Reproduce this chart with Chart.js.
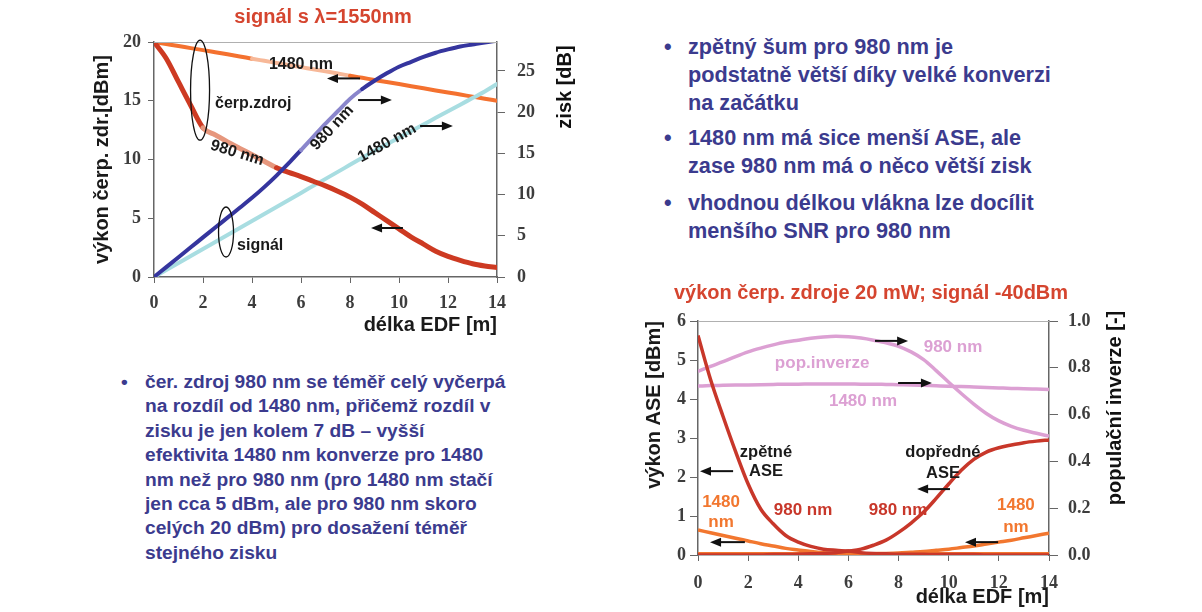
<!DOCTYPE html>
<html lang="cs">
<head>
<meta charset="utf-8">
<title>EDFA – čerpání 980 nm a 1480 nm</title>
<script src="https://cdn.jsdelivr.net/npm/chart.js@4.4.1/dist/chart.umd.min.js"></script>
<style>
  html, body { margin: 0; padding: 0; background: #fff; }
  body { width: 1202px; height: 612px; position: relative; overflow: hidden; font-family: "Liberation Sans", Arial, sans-serif; }
  canvas { position: absolute; }
  #pumpChart { left: 63px; top: 0; }
  #aseChart { left: 611px; top: 272px; }
  .note { position: absolute; color: #3b3b8e; font-weight: bold; white-space: nowrap; }
  .note .dot { position: absolute; left: -24px; top: 0; }
  .big { font-size: 21.7px; line-height: 28px; left: 688px; }
  .small { font-size: 19.2px; line-height: 24.4px; left: 145px; }
</style>
</head>
<body>

<canvas id="pumpChart" width="520" height="345"></canvas>
<canvas id="aseChart" width="520" height="340"></canvas>

<div class="note big" style="top:33px"><span class="dot">•</span>zpětný šum pro 980 nm je<br>podstatně větší díky velké konverzi<br>na začátku</div>
<div class="note big" style="top:124px"><span class="dot">•</span>1480 nm má sice menší ASE, ale<br>zase 980 nm má o něco větší zisk</div>
<div class="note big" style="top:189px"><span class="dot">•</span>vhodnou délkou vlákna lze docílit<br>menšího SNR pro 980 nm</div>

<div class="note small" style="top:370px"><span class="dot">•</span>čer. zdroj 980 nm se téměř celý vyčerpá<br>na rozdíl od 1480 nm, přičemž rozdíl v<br>zisku je jen kolem 7 dB – vyšší<br>efektivita 1480 nm konverze pro 1480<br>nm než pro 980 nm (pro 1480 nm stačí<br>jen cca 5 dBm, ale pro 980 nm skoro<br>celých 20 dBm) pro dosažení téměř<br>stejného zisku</div>

<script>
// délka vlákna EDF [m] - společná pro všechny křivky
const lengthM = [0, 0.5, 1, 1.5, 2, 2.5, 3, 3.5, 4, 4.5, 5, 5.5, 6, 6.5, 7, 7.5, 8, 8.5, 9, 9.5, 10, 10.5, 11, 11.5, 12, 12.5, 13, 13.5, 14];

// horní graf: výkon čerpání [dBm] a zisk signálu [dB]
const pump1480 = [20, 19.83, 19.66, 19.48, 19.31, 19.13, 18.95, 18.77, 18.58, 18.4, 18.22, 18.04, 17.86, 17.68, 17.5, 17.32, 17.13, 16.95, 16.77, 16.59, 16.42, 16.24, 16.06, 15.88, 15.71, 15.53, 15.35, 15.17, 15.0];
const pump980 = [20, 18.6, 16.6, 14.6, 12.7, 12.1, 11.5, 10.95, 10.4, 9.85, 9.3, 8.9, 8.55, 8.15, 7.75, 7.3, 6.8, 6.2, 5.5, 4.8, 4.1, 3.4, 2.8, 2.2, 1.76, 1.42, 1.13, 0.94, 0.8];
const gain980 = [0, 1.2, 2.4, 3.6, 4.8, 6.0, 7.2, 8.4, 9.6, 10.9, 12.3, 13.8, 15.4, 17.0, 18.6, 20.1, 21.6, 22.8, 23.8, 24.7, 25.5, 26.1, 26.7, 27.2, 27.6, 27.95, 28.2, 28.45, 28.65];
const gain1480 = [0, 0.85, 1.7, 2.55, 3.4, 4.25, 5.1, 5.95, 6.8, 7.65, 8.5, 9.35, 10.2, 11.05, 11.9, 12.75, 13.6, 14.45, 15.3, 16.1, 16.9, 17.7, 18.5, 19.3, 20.1, 20.9, 21.7, 22.5, 23.4];

// dolní graf: výkon ASE [dBm] a populační inverze [-]
const ase980Back = [5.63, 4.5, 3.55, 2.65, 1.82, 1.18, 0.8, 0.5, 0.33, 0.22, 0.15, 0.12, 0.1, 0.06, 0.04, 0.03, 0.02, 0.02, 0.02, 0.01, 0.01, 0.01, 0.01, 0, 0, 0, 0, 0, 0];
const ase980Fwd = [0, 0, 0, 0, 0, 0, 0.01, 0.01, 0.02, 0.03, 0.04, 0.06, 0.1, 0.15, 0.25, 0.38, 0.58, 0.82, 1.1, 1.45, 1.82, 2.17, 2.45, 2.64, 2.75, 2.82, 2.88, 2.92, 2.95];
const ase1480Back = [0.64, 0.57, 0.5, 0.43, 0.36, 0.29, 0.23, 0.17, 0.13, 0.09, 0.06, 0.045, 0.035, 0.03, 0.03, 0.03, 0.03, 0.03, 0.03, 0.03, 0.03, 0.03, 0.03, 0.03, 0.03, 0.03, 0.03, 0.03, 0.03];
const ase1480Fwd = [0.03, 0.03, 0.03, 0.03, 0.03, 0.03, 0.03, 0.03, 0.03, 0.03, 0.03, 0.03, 0.03, 0.03, 0.035, 0.04, 0.05, 0.07, 0.09, 0.12, 0.15, 0.19, 0.23, 0.28, 0.33, 0.38, 0.44, 0.5, 0.56];
const inv980 = [0.785, 0.806, 0.826, 0.848, 0.868, 0.884, 0.898, 0.91, 0.918, 0.926, 0.932, 0.935, 0.933, 0.927, 0.918, 0.907, 0.892, 0.868, 0.835, 0.788, 0.738, 0.69, 0.645, 0.605, 0.573, 0.55, 0.533, 0.52, 0.508];
const inv1480 = [0.722, 0.724, 0.725, 0.726, 0.727, 0.728, 0.729, 0.73, 0.73, 0.731, 0.731, 0.731, 0.731, 0.73, 0.73, 0.729, 0.728, 0.727, 0.725, 0.723, 0.721, 0.72, 0.718, 0.716, 0.714, 0.712, 0.711, 0.709, 0.707];

const ARIAL = '"Liberation Sans", Arial, sans-serif';
const SERIF = '"Liberation Serif", "Times New Roman", serif';
const tickFont = { family: SERIF, size: 18, weight: 'bold' };
const tickColour = "#3d3d3d";
const axisColour = "#666";

function pairs(ys) {
    return lengthM.map((x, i) => ({ x: x, y: ys[i] }));
}

// světlejší úsek čáry (jak je v předloze pod popisky)
function lightBetween(from, to, colour) {
    return ctx => (ctx.p0.parsed.x >= from && ctx.p1.parsed.x <= to) ? colour : undefined;
}

// popisky, šipky a elipsy v souřadnicích dat + pravý popis osy otočený o -90°
const notes = {
    id: 'notes',
    afterDatasetsDraw(chart, args, opts) {
        const { ctx, chartArea: area } = chart;
        const sx = chart.scales.x, sy = chart.scales.y;
        ctx.save();

        ctx.strokeStyle = "#b0b0b0";
        ctx.lineWidth = 1;
        ctx.beginPath();
        ctx.moveTo(area.left, area.top + 0.5);
        ctx.lineTo(area.right, area.top + 0.5);
        ctx.stroke();

        (opts.items || []).forEach(it => {
            const px = sx.getPixelForValue(it.x);
            const py = sy.getPixelForValue(it.y);
            if (it.type === 'text') {
                ctx.save();
                ctx.translate(px, py);
                ctx.rotate((it.angle || 0) * Math.PI / 180);
                ctx.font = 'bold ' + (it.size || 16) + 'px ' + ARIAL;
                ctx.fillStyle = it.color || "#1a1a1a";
                ctx.textAlign = it.align || 'center';
                ctx.textBaseline = 'middle';
                ctx.fillText(it.text, 0, 0);
                ctx.restore();
            } else if (it.type === 'arrow') {
                const px2 = sx.getPixelForValue(it.x2);
                const dir = Math.sign(px2 - px);
                ctx.strokeStyle = "#111";
                ctx.fillStyle = "#111";
                ctx.lineWidth = 2;
                ctx.beginPath();
                ctx.moveTo(px, py);
                ctx.lineTo(px2 - dir * 8, py);
                ctx.stroke();
                ctx.beginPath();
                ctx.moveTo(px2, py);
                ctx.lineTo(px2 - dir * 11, py - 4.5);
                ctx.lineTo(px2 - dir * 11, py + 4.5);
                ctx.closePath();
                ctx.fill();
            } else if (it.type === 'ellipse') {
                ctx.strokeStyle = "#111";
                ctx.lineWidth = 1.3;
                ctx.beginPath();
                ctx.ellipse(px, py, it.rx, it.ry, 0, 0, Math.PI * 2);
                ctx.stroke();
            }
        });

        if (opts.sideTitle) {
            const t = opts.sideTitle;
            ctx.translate(area.right + t.dx, area.top + t.dy);
            ctx.rotate(-Math.PI / 2);
            ctx.font = 'bold 20px ' + ARIAL;
            ctx.fillStyle = "#111";
            ctx.textAlign = 'center';
            ctx.textBaseline = 'middle';
            ctx.fillText(t.text, 0, 0);
        }
        ctx.restore();
    }
};

function axisX(height, titlePad, tickPad) {
    return {
        type: 'linear', min: 0, max: 14,
        ticks: { stepSize: 2, font: tickFont, color: tickColour, padding: tickPad },
        grid: { drawOnChartArea: false, drawTicks: true, tickLength: 6, color: axisColour },
        border: { display: true, color: axisColour, width: 1.5 },
        title: { display: true, text: 'délka EDF [m]', align: 'end', color: "#1a1a1a",
                 font: { family: ARIAL, size: 20, weight: 'bold' }, padding: { top: 0, bottom: titlePad } },
        afterFit: scale => { scale.height = height; }
    };
}

// ---------- horní graf ----------
new Chart(document.getElementById("pumpChart"), {
    type: 'line',
    data: {
        datasets: [
            { data: pairs(gain980), yAxisID: 'y1', borderColor: "#35359e", borderWidth: 4, order: 1,
              segment: { borderColor: lightBetween(6, 8.5, "#8a86cc") } },
            { data: pairs(pump980), yAxisID: 'y', borderColor: "#cd3a22", borderWidth: 5, order: 2,
              segment: { borderColor: lightBetween(2, 5, "#e6977d") } },
            { data: pairs(gain1480), yAxisID: 'y1', borderColor: "#a8dde1", borderWidth: 4, order: 3 },
            { data: pairs(pump1480), yAxisID: 'y', borderColor: "#f4712f", borderWidth: 4, order: 4,
              segment: { borderColor: lightBetween(4, 8, "#f7b898") } }
        ]
    },
    options: {
        responsive: false,
        animation: false,
        layout: { padding: 0 },
        elements: { point: { radius: 0 }, line: { cubicInterpolationMode: 'monotone', borderCapStyle: 'round' } },
        scales: {
            x: axisX(68, 8, 10),
            y: {
                position: 'left', min: 0, max: 20,
                ticks: { stepSize: 5, font: tickFont, color: tickColour, padding: 7 },
                grid: { drawOnChartArea: false, tickLength: 6, color: axisColour },
                border: { display: true, color: axisColour, width: 1.5 },
                title: { display: true, text: 'výkon čerp. zdr.[dBm]', color: "#1a1a1a",
                         font: { family: ARIAL, size: 20, weight: 'bold' }, padding: { top: 27, bottom: 0 } },
                afterFit: scale => { scale.width = 91; }
            },
            y1: {
                position: 'right', min: 0, max: 28.5,
                ticks: { stepSize: 5, font: tickFont, color: tickColour, padding: 12 },
                grid: { drawOnChartArea: false, tickLength: 8, color: axisColour },
                border: { display: true, color: axisColour, width: 1.5 },
                afterBuildTicks: scale => { scale.ticks = scale.ticks.filter(t => t.value % 5 === 0); },
                afterFit: scale => { scale.width = 86; }
            }
        },
        plugins: {
            legend: { display: false },
            tooltip: { enabled: false },
            title: { display: true, text: 'signál s λ=1550nm', color: "#d5452f",
                     font: { family: ARIAL, size: 20, weight: 'bold' }, padding: { top: 5, bottom: 13 } },
            notes: {
                sideTitle: { text: 'zisk [dB]', dx: 68, dy: 45 },
                items: [
                    { type: 'ellipse', x: 1.88, y: 15.9, rx: 9.5, ry: 50 },
                    { type: 'text', text: 'čerp.zdroj', x: 2.49, y: 14.8, align: 'left' },
                    { type: 'ellipse', x: 2.94, y: 3.83, rx: 7.5, ry: 25 },
                    { type: 'text', text: 'signál', x: 3.39, y: 2.64, align: 'left' },
                    { type: 'text', text: '1480 nm', x: 4.69, y: 18.1, align: 'left' },
                    { type: 'text', text: '980 nm', x: 7.27, y: 12.7, angle: -47 },
                    { type: 'text', text: '1480 nm', x: 9.51, y: 11.4, angle: -29 },
                    { type: 'text', text: '980 nm', x: 3.39, y: 10.55, angle: 17 },
                    { type: 'arrow', x: 8.41, x2: 7.06, y: 16.9 },
                    { type: 'arrow', x: 8.33, x2: 9.71, y: 15.06 },
                    { type: 'arrow', x: 10.86, x2: 12.2, y: 12.85 },
                    { type: 'arrow', x: 10.16, x2: 8.86, y: 4.17 }
                ]
            }
        }
    },
    plugins: [notes]
});

// ---------- dolní graf ----------
const pink = "#dca0d3", red = "#c8372a", orange = "#f2772f";

new Chart(document.getElementById("aseChart"), {
    type: 'line',
    data: {
        datasets: [
            { data: pairs(ase980Back), yAxisID: 'y', borderColor: red, borderWidth: 3.5, order: 1 },
            { data: pairs(ase980Fwd), yAxisID: 'y', borderColor: red, borderWidth: 3.5, order: 2 },
            { data: pairs(ase1480Back), yAxisID: 'y', borderColor: orange, borderWidth: 3.5, order: 3 },
            { data: pairs(ase1480Fwd), yAxisID: 'y', borderColor: orange, borderWidth: 3.5, order: 4 },
            { data: pairs(inv980), yAxisID: 'y1', borderColor: pink, borderWidth: 3.5, order: 5 },
            { data: pairs(inv1480), yAxisID: 'y1', borderColor: pink, borderWidth: 3.5, order: 6 }
        ]
    },
    options: {
        responsive: false,
        animation: false,
        layout: { padding: 0 },
        elements: { point: { radius: 0 }, line: { cubicInterpolationMode: 'monotone' } },
        scales: {
            x: axisX(57, 3, 12),
            y: {
                position: 'left', min: 0, max: 6,
                ticks: { stepSize: 1, font: tickFont, color: tickColour, padding: 4 },
                grid: { drawOnChartArea: false, tickLength: 8, color: axisColour },
                border: { display: true, color: axisColour, width: 1.5 },
                title: { display: true, text: 'výkon ASE [dBm]', align: 'end', color: "#1a1a1a",
                         font: { family: ARIAL, size: 20, weight: 'bold' }, padding: { top: 31, bottom: 0 } },
                afterFit: scale => { scale.width = 87; }
            },
            y1: {
                position: 'right', min: 0, max: 1,
                ticks: { stepSize: 0.2, font: tickFont, color: tickColour, padding: 10,
                         callback: v => v.toFixed(1) },
                grid: { drawOnChartArea: false, tickLength: 9, color: axisColour },
                border: { display: true, color: axisColour, width: 1.5 },
                afterFit: scale => { scale.width = 82; }
            }
        },
        plugins: {
            legend: { display: false },
            tooltip: { enabled: false },
            title: { display: true, text: 'výkon čerp. zdroje 20 mW; signál -40dBm', color: "#d5452f",
                     font: { family: ARIAL, size: 20, weight: 'bold' }, padding: { top: 9, bottom: 16 } },
            notes: {
                sideTitle: { text: 'populační inverze [-]', dx: 66, dy: 87 },
                items: [
                    { type: 'text', text: 'pop.inverze', x: 4.95, y: 4.92, size: 17, color: pink },
                    { type: 'text', text: '980 nm', x: 10.17, y: 5.33, size: 17, color: pink },
                    { type: 'text', text: '1480 nm', x: 6.58, y: 3.95, size: 17, color: pink },
                    { type: 'text', text: 'zpětné', x: 2.71, y: 2.62, size: 16.5 },
                    { type: 'text', text: 'ASE', x: 2.71, y: 2.13, size: 16.5 },
                    { type: 'text', text: 'dopředné', x: 9.77, y: 2.62, size: 16.5 },
                    { type: 'text', text: 'ASE', x: 9.77, y: 2.1, size: 16.5 },
                    { type: 'text', text: '980 nm', x: 4.19, y: 1.15, size: 17, color: red },
                    { type: 'text', text: '980 nm', x: 7.98, y: 1.15, size: 17, color: red },
                    { type: 'text', text: '1480', x: 0.92, y: 1.36, size: 17, color: orange },
                    { type: 'text', text: 'nm', x: 0.92, y: 0.85, size: 17, color: orange },
                    { type: 'text', text: '1480', x: 12.68, y: 1.28, size: 17, color: orange },
                    { type: 'text', text: 'nm', x: 12.68, y: 0.72, size: 17, color: orange },
                    { type: 'arrow', x: 7.06, x2: 8.38, y: 5.49 },
                    { type: 'arrow', x: 7.98, x2: 9.33, y: 4.41 },
                    { type: 'arrow', x: 1.40, x2: 0.08, y: 2.15 },
                    { type: 'arrow', x: 10.05, x2: 8.74, y: 1.69 },
                    { type: 'arrow', x: 1.87, x2: 0.48, y: 0.33 },
                    { type: 'arrow', x: 11.97, x2: 10.65, y: 0.33 }
                ]
            }
        }
    },
    plugins: [notes]
});
</script>
</body>
</html>
